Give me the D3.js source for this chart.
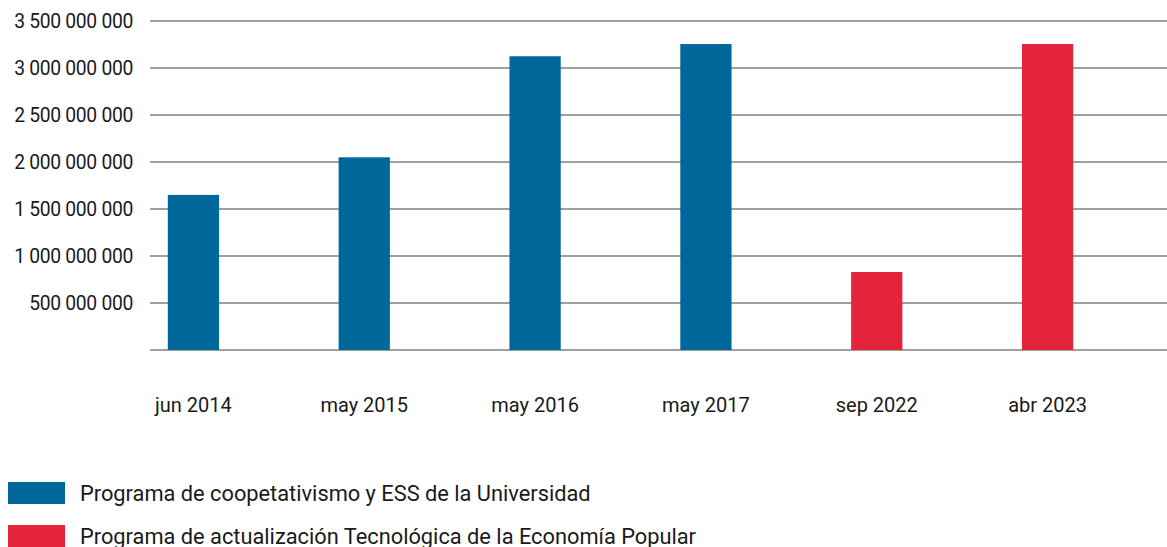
<!DOCTYPE html>
<html>
<head>
<meta charset="utf-8">
<script src="https://cdn.jsdelivr.net/npm/d3@7"></script>
<style>
  body { margin: 0; background: #fff; }
  text { font-family: Roboto, "Noto Sans", sans-serif; fill: #1a1a1a; }
</style>
</head>
<body>
<svg id="chart"></svg>
<script>
// data
let periods = ["jun 2014", "may 2015", "may 2016", "may 2017", "sep 2022", "abr 2023"];
let amounts = [1650000000, 2050000000, 3125000000, 3255000000, 830000000, 3255000000];
let programs = [0, 0, 0, 0, 1, 1];
let seriesNames = [
    "Programa de coopetativismo y ESS de la Universidad",
    "Programa de actualización Tecnológica de la Economía Popular"
];
let seriesColors = ["#00679b", "#e4233c"];
let yTicks = [0, 500000000, 1000000000, 1500000000, 2000000000, 2500000000, 3000000000, 3500000000];

let width = 1167,
    height = 547;

let svg = d3.select("svg#chart")
    .attr("width", width)
    .attr("height", height);

let x = d3.scaleBand()
    .domain(periods)
    .range([108, 1133])
    .paddingInner(0.7)
    .paddingOuter(0.35);

let y = d3.scaleLinear()
    .domain([0, 3500000000])
    .range([350, 21]);

let fmt = v => d3.format(",")(v).replace(/,/g, " ");

// gridlines + labels
let grid = svg.append("g");
grid.selectAll("line")
    .data(yTicks)
    .enter().append("line")
    .attr("x1", 150)
    .attr("x2", width)
    .attr("y1", d => y(d))
    .attr("y2", d => y(d))
    .attr("stroke", "#808080")
    .attr("stroke-width", 1.4);

grid.selectAll("text")
    .data(yTicks.filter(d => d > 0))
    .enter().append("text")
    .attr("x", 133)
    .attr("y", d => y(d) + 7)
    .attr("text-anchor", "end")
    .attr("font-size", 19.3)
    .attr("letter-spacing", -0.3)
    .text(d => fmt(d));

// bars
svg.append("g").selectAll("rect")
    .data(periods)
    .enter().append("rect")
    .attr("x", d => x(d))
    .attr("width", x.bandwidth())
    .attr("y", (d, i) => y(amounts[i]))
    .attr("height", (d, i) => y(0) - y(amounts[i]))
    .attr("fill", (d, i) => seriesColors[programs[i]]);

// category labels
svg.append("g").selectAll("text")
    .data(periods)
    .enter().append("text")
    .attr("x", d => x(d) + x.bandwidth() / 2)
    .attr("y", 412)
    .attr("text-anchor", "middle")
    .attr("font-size", 20)
    .text(d => d);

// legend
let legend = svg.append("g").selectAll("g")
    .data(seriesNames)
    .enter().append("g")
    .attr("transform", (d, i) => `translate(8, ${482 + i * 43})`);

legend.append("rect")
    .attr("width", 57)
    .attr("height", 22)
    .attr("fill", (d, i) => seriesColors[i]);

legend.append("text")
    .attr("x", 72)
    .attr("y", 19)
    .attr("font-size", 21.8)
    .text(d => d);
</script>
</body>
</html>
